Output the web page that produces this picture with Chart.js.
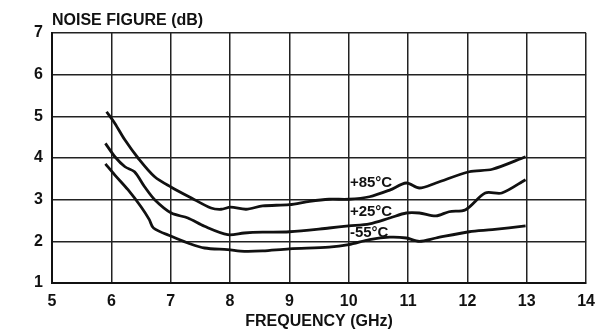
<!DOCTYPE html>
<html>
<head>
<meta charset="utf-8">
<script src="https://cdn.jsdelivr.net/npm/chart.js@4.4.1/dist/chart.umd.min.js"></script>
<style>
  html, body { margin: 0; padding: 0; background: #fff; }
  #wrap { width: 604px; height: 330px; position: relative; }
</style>
</head>
<body>
<div id="wrap"><canvas id="nfChart"></canvas></div>
<script>
const freq85 = [5.92, 6.06, 6.23, 6.45, 6.73, 7.01, 7.35, 7.68, 7.85, 8.01, 8.27, 8.55, 9.0, 9.34, 9.67, 10.0, 10.35, 10.69, 10.97, 11.19, 11.47, 12.03, 12.42, 12.98];
const nf85 = [5.11, 4.83, 4.43, 4.0, 3.55, 3.3, 3.04, 2.8, 2.77, 2.82, 2.77, 2.85, 2.88, 2.96, 3.01, 3.01, 3.07, 3.23, 3.4, 3.28, 3.4, 3.67, 3.73, 4.03];

const freq25 = [5.9, 6.06, 6.23, 6.39, 6.56, 6.73, 7.01, 7.29, 7.57, 7.96, 8.24, 8.55, 9.0, 9.67, 10.0, 10.35, 10.69, 10.97, 11.19, 11.47, 11.69, 11.97, 12.3, 12.58, 12.98];
const nf25 = [4.35, 4.03, 3.79, 3.67, 3.31, 3.0, 2.68, 2.56, 2.36, 2.16, 2.2, 2.22, 2.23, 2.32, 2.37, 2.42, 2.56, 2.68, 2.68, 2.61, 2.71, 2.76, 3.16, 3.16, 3.48];

const freq55 = [5.9, 6.06, 6.28, 6.5, 6.64, 6.71, 7.01, 7.29, 7.57, 7.96, 8.24, 8.55, 9.0, 9.67, 10.0, 10.35, 10.69, 10.97, 11.19, 11.47, 12.03, 12.42, 12.98];
const nf55 = [3.86, 3.59, 3.24, 2.83, 2.52, 2.32, 2.12, 1.96, 1.84, 1.8, 1.76, 1.77, 1.82, 1.86, 1.92, 2.04, 2.1, 2.08, 2.0, 2.08, 2.23, 2.28, 2.37];

const curveLabels = ["+85°C", "+25°C", "-55°C"];
const labelFreq = [10.02, 10.02, 10.02];
const labelNf = [3.4, 2.71, 2.2];

const FONT = "'Liberation Sans', Arial, sans-serif";

function toPoints(xs, ys) {
  return xs.map((x, i) => ({ x, y: ys[i] }));
}

function curve(xs, ys) {
  return {
    data: toPoints(xs, ys),
    borderColor: "#111",
    borderWidth: 2.8,
    pointRadius: 0,
    tension: 0.3,
    fill: false
  };
}

// axis title at top-left + curve labels
const textPlugin = {
  id: "textPlugin",
  afterDraw(c) {
    const ctx = c.ctx;
    const xs = c.scales.x;
    const ys = c.scales.y;
    ctx.save();
    ctx.fillStyle = "#111";
    ctx.textBaseline = "middle";
    ctx.textAlign = "left";
    ctx.font = `bold 16px ${FONT}`;
    ctx.fillText("NOISE FIGURE (dB)", c.chartArea.left, 21);
    ctx.font = `bold 15px ${FONT}`;
    curveLabels.forEach((t, i) => {
      ctx.fillText(t, xs.getPixelForValue(labelFreq[i]), ys.getPixelForValue(labelNf[i]));
    });
    ctx.restore();
  }
};

new Chart(document.getElementById("nfChart"), {
  type: "line",
  data: {
    datasets: [curve(freq85, nf85), curve(freq25, nf25), curve(freq55, nf55)]
  },
  options: {
    responsive: true,
    maintainAspectRatio: false,
    animation: false,
    layout: { padding: { top: 33, right: 17, left: 0, bottom: 0 } },
    plugins: { legend: { display: false }, tooltip: { enabled: false } },
    scales: {
      x: {
        type: "linear",
        min: 5,
        max: 14,
        afterFit: (s) => { s.height = 47; },
        ticks: { stepSize: 1, color: "#111", padding: 9, font: { family: FONT, size: 16, weight: "bold" } },
        grid: { color: "#222", lineWidth: 1.5, drawTicks: false },
        border: { color: "#111", width: 2 },
        title: {
          display: true,
          text: "FREQUENCY (GHz)",
          color: "#111",
          padding: 0,
          font: { family: FONT, size: 16, weight: "bold", lineHeight: 1 }
        }
      },
      y: {
        min: 1,
        max: 7,
        afterFit: (s) => { s.width = 52; },
        ticks: { stepSize: 1, color: "#111", padding: 9, font: { family: FONT, size: 16, weight: "bold" } },
        grid: { color: "#222", lineWidth: 1.5, drawTicks: false },
        border: { color: "#111", width: 2 }
      }
    }
  },
  plugins: [textPlugin]
});
</script>
</body>
</html>
